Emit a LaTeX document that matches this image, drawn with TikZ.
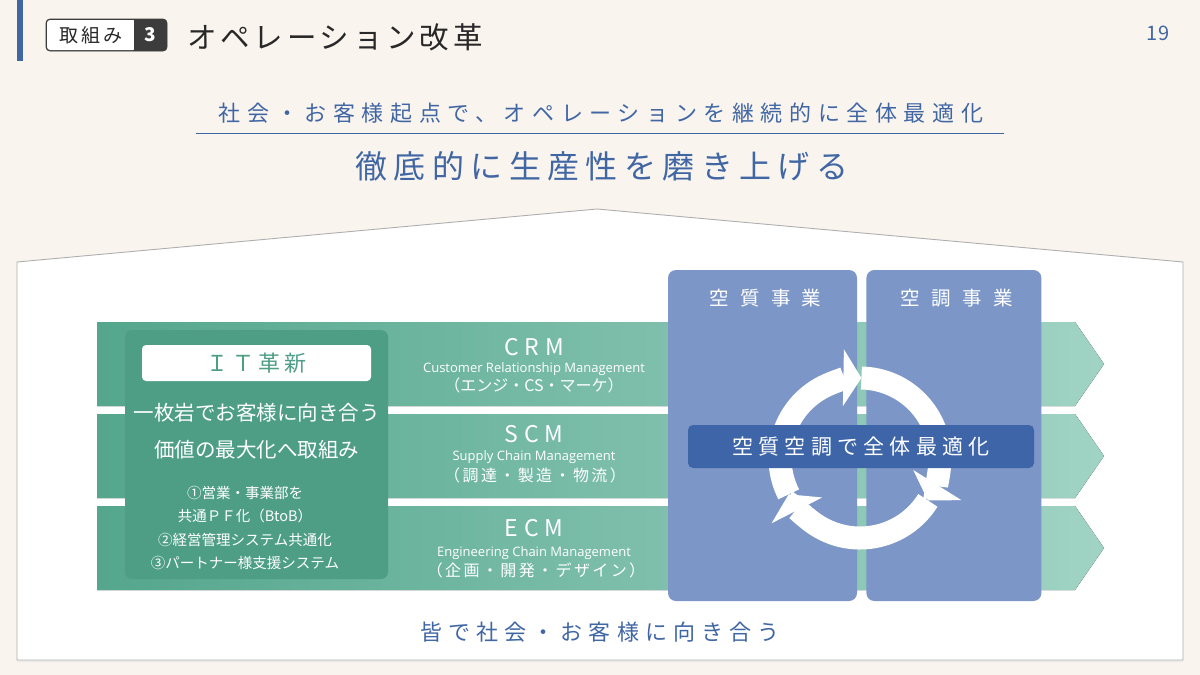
\documentclass[tikz,border=0pt]{standalone}
\usepackage{fontspec}
\setmainfont{Noto Sans CJK JP}
\newfontfamily\latinsans{Open Sans}
\usetikzlibrary{arrows.meta,positioning,calc}
\definecolor{pagebg}{RGB}{250,244,238}
\definecolor{hdrblue}{RGB}{64,103,164}
\definecolor{hdrdark}{RGB}{40,40,40}
\definecolor{tagdark}{RGB}{60,60,60}
\definecolor{banddk}{RGB}{84,166,140}
\definecolor{bandlt}{RGB}{160,211,196}
\definecolor{itgreen}{RGB}{78,158,134}
\definecolor{colblue}{RGB}{123,150,199}
\definecolor{midblue}{RGB}{61,101,167}
\definecolor{housebdr}{RGB}{175,175,175}
\newcommand{\fsz}[2]{\fontsize{#1pt}{#2pt}\selectfont}
\newcommand{\lsp}[1]{\addfontfeature{LetterSpace=#1}}
\tikzset{
  %% plain text
  txt/.style={inner sep=0pt,align=center},
  %% house outline
  housebox/.style={fill=white,draw=housebdr,line width=0.9pt},
  %% green row arrows
  rowband/.style={left color=banddk,right color=bandlt},
  %% IT block
  itblk/.style={rectangle,rounded corners=7pt,fill=itgreen,
    minimum width=263pt,minimum height=249pt,inner sep=0pt},
  ithead/.style={rectangle,rounded corners=4pt,fill=white,
    minimum width=229pt,minimum height=36pt,inner sep=0pt,
    text=itgreen,font=\fsz{22}{26}\lsp{18}},
  itbig/.style={txt,text=white,font=\fsz{20.5}{24}},
  itsmall/.style={txt,text=white,font=\fsz{14.5}{23.3}},
  %% row labels
  rowttl/.style={txt,text=white,font=\fsz{23}{26}\lsp{25}},
  rowsub/.style={txt,text=white,font=\latinsans\fsz{13}{15}},
  rowjp/.style={txt,text=white,font=\fsz{16}{19}},
  %% business columns
  colblk/.style={rectangle,rounded corners=8pt,fill=colblue,
    minimum height=331pt,inner sep=0pt},
  colttl/.style={txt,text=white,font=\fsz{19.5}{22}\lsp{58}},
  %% centre bar
  midblk/.style={rectangle,rounded corners=5pt,fill=midblue,
    minimum width=346pt,minimum height=43pt,inner sep=0pt,
    text=white,font=\fsz{21}{24}\lsp{25}},
  %% cycle arrows
  cycarr/.style={white,line width=23pt,-{Triangle[length=18pt,width=56pt]}},
}

\begin{document}
\begin{tikzpicture}[x=1pt,y=-1pt]

  %% page
  \fill[pagebg] (0,0) rectangle (1200,675);
  \useasboundingbox (0,0) rectangle (1200,675);

  %% header
  \fill[hdrblue] (17,0) rectangle (23,61);
  \draw[tagdark,fill=tagdark,rounded corners=4pt,line width=0.8pt] (46,19) rectangle (167,51);
  \fill[white,rounded corners=3pt] (47,20) rectangle (136,50);
  \fill[tagdark] (134,20) rectangle (140,50);
  \node[txt,text=hdrdark,font=\fsz{19}{22}\lsp{16}] (tag) at (91,35) {取組み};
  \node[txt,text=white,font=\fsz{19}{22}\bfseries] (tagno) at (150.5,35) {3};
  \node[txt,anchor=west,text=hdrdark,font=\fsz{29.5}{32}\lsp{13}] (title) at (187,37) {オペレーション改革};
  \node[txt,text=hdrblue,font=\fsz{20}{22}] (pageno) at (1158,33) {19};

  %% headline
  \node[txt,text=hdrblue,font=\fsz{22}{26}\lsp{30}] (sub) at (601,113)
    {社会・お客様起点で、オペレーションを継続的に全体最適化};
  \draw[hdrblue,line width=0.8pt] (196,133) -- (1004,133);
  \node[txt,text=hdrblue,font=\fsz{32}{36}\lsp{20}] (head) at (602,166)
    {徹底的に生産性を磨き上げる};

  %% house
  \fill[black!8] (17,264) -- (597,211) -- (1183,264) -- (1183,662) -- (17,662) -- cycle;
  \draw[housebox] (17,262) -- (597,209) -- (1183,262) -- (1183,660) -- (17,660) -- cycle;

  %% three rows
  \foreach \yt in {322,414,506}
    \fill[rowband] (97,\yt) -- (1075,\yt) -- (1104,\yt+42) -- (1075,\yt+84) -- (97,\yt+84) -- cycle;

  %% IT block
  \node[itblk] (itb) at (256.5,454.5) {};
  \node[ithead] (ith) at (256.5,363) {ＩＴ革新};
  \node[itbig] (it1) at (256.5,413) {一枚岩でお客様に向き合う};
  \node[itbig] (it2) at (256.5,450) {価値の最大化へ取組み};
  \node[itsmall] (it3) at (245,528)
    {①営業・事業部を\\共通ＰＦ化（BtoB）\\②経営管理システム共通化\\③パートナー様支援システム};

  %% row labels
  \node[rowttl] (crm) at (534,347) {CRM};
  \node[rowsub] (crms) at (534,369) {Customer Relationship Management};
  \node[rowjp]  (crmj) at (534,385) {（エンジ・CS・マーケ）};
  \node[rowttl] (scm) at (534,434) {SCM};
  \node[rowsub] (scms) at (534,457) {Supply Chain Management};
  \node[rowjp,font=\fsz{16}{19}\lsp{15}] (scmj) at (535,475) {（調達・製造・物流）};
  \node[rowttl] (ecm) at (534,528) {ECM};
  \node[rowsub] (ecms) at (534,553) {Engineering Chain Management};
  \node[rowjp,font=\fsz{16}{19}\lsp{15}] (ecmj) at (536,570) {（企画・開発・デザイン）};

  %% business columns
  \node[colblk,minimum width=189pt] (col1) at (762.5,435.5) {};
  \node[colblk,minimum width=175pt,right=9pt of col1] (col2) {};
  \node[colttl] (c1t) at ($(col1.north)+(3,28)$) {空質事業};
  \node[colttl] (c2t) at ($(col2.north)+(3,28)$) {空調事業};

  %% cycle
  \coordinate (cyc) at (860,458);
  \foreach \a/\b in {153/271, 271/392, 32/153}
    \draw[cycarr] ([shift={(\a:80)}]cyc) arc[start angle=\a,end angle=\b,radius=80];

  %% centre bar
  \node[midblk] (mid) at (861,446.5) {空質空調で全体最適化};

  %% bottom line
  \node[txt,text=hdrblue,font=\fsz{22}{26}\lsp{28}] (foot) at (600,632)
    {皆で社会・お客様に向き合う};

\end{tikzpicture}
\end{document}
